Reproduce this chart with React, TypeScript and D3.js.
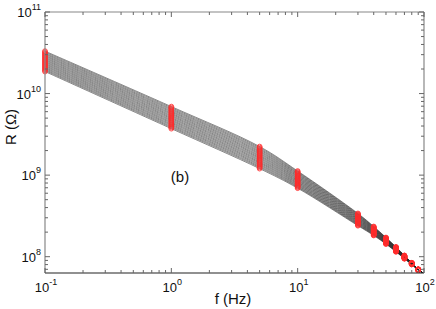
import React, { useEffect } from 'react'
import * as d3 from 'd3'

const width = 436
const height = 309
const margin = { left: 45, right: 12, top: 12, bottom: 36 }

// frequencies (Hz) where the resistance was sampled (red markers)
const freqs = [0.1, 1, 5, 10, 30, 40, 50, 60, 70, 80, 90]

// log10(R / Ohm) of every curve at each frequency, top curve first
const logR_f0_1 = [10.52, 10.508, 10.495, 10.483, 10.47, 10.458, 10.445, 10.433, 10.42, 10.408, 10.395, 10.383, 10.37, 10.358, 10.345, 10.333, 10.32, 10.308, 10.295, 10.283, 10.27]
const logR_f1 = [9.84, 9.827, 9.813, 9.8, 9.786, 9.773, 9.759, 9.746, 9.732, 9.719, 9.705, 9.692, 9.678, 9.665, 9.651, 9.638, 9.624, 9.611, 9.597, 9.584, 9.57]
const logR_f5 = [9.35, 9.337, 9.323, 9.31, 9.296, 9.283, 9.269, 9.256, 9.242, 9.229, 9.215, 9.202, 9.188, 9.175, 9.161, 9.148, 9.134, 9.121, 9.107, 9.094, 9.08]
const logR_f10 = [9.05, 9.04, 9.029, 9.019, 9.008, 8.998, 8.987, 8.977, 8.966, 8.956, 8.945, 8.935, 8.924, 8.914, 8.903, 8.893, 8.882, 8.872, 8.861, 8.851, 8.84]
const logR_f30 = [8.53, 8.523, 8.515, 8.508, 8.5, 8.493, 8.485, 8.478, 8.47, 8.463, 8.455, 8.448, 8.44, 8.433, 8.425, 8.418, 8.41, 8.403, 8.395, 8.388, 8.38]
const logR_f40 = [8.37, 8.365, 8.359, 8.354, 8.348, 8.343, 8.337, 8.332, 8.326, 8.321, 8.315, 8.31, 8.304, 8.299, 8.293, 8.288, 8.282, 8.277, 8.271, 8.266, 8.26]
const logR_f50 = [8.235, 8.231, 8.227, 8.223, 8.219, 8.215, 8.211, 8.207, 8.203, 8.199, 8.195, 8.191, 8.187, 8.183, 8.179, 8.175, 8.171, 8.167, 8.163, 8.159, 8.155]
const logR_f60 = [8.12, 8.117, 8.114, 8.111, 8.108, 8.105, 8.102, 8.099, 8.096, 8.093, 8.09, 8.087, 8.084, 8.081, 8.078, 8.075, 8.072, 8.069, 8.066, 8.063, 8.06]
const logR_f70 = [8.015, 8.013, 8.011, 8.009, 8.007, 8.005, 8.003, 8.001, 7.999, 7.997, 7.995, 7.993, 7.991, 7.989, 7.987, 7.985, 7.983, 7.981, 7.979, 7.977, 7.975]
const logR_f80 = [7.925, 7.924, 7.923, 7.922, 7.921, 7.92, 7.919, 7.918, 7.917, 7.916, 7.915, 7.914, 7.913, 7.912, 7.911, 7.91, 7.909, 7.908, 7.907, 7.906, 7.905]
const logR_f90 = [7.845, 7.845, 7.844, 7.844, 7.843, 7.843, 7.842, 7.842, 7.841, 7.841, 7.84, 7.84, 7.839, 7.839, 7.838, 7.838, 7.837, 7.837, 7.836, 7.836, 7.835]
const columns = [logR_f0_1, logR_f1, logR_f5, logR_f10, logR_f30, logR_f40, logR_f50, logR_f60, logR_f70, logR_f80, logR_f90]

// all curves run into the corner at 100 Hz
const endFreq = 100
const endLogR = 7.79

const xTickExps = [-1, 0, 1, 2]
const yTickExps = [8, 9, 10, 11]

const x = d3.scaleLog().domain([0.1, 100]).range([margin.left, width - margin.right])
const y = d3.scaleLog().domain([Math.pow(10, 7.8), 1e11]).range([height - margin.bottom, margin.top])

export default function App() {
  useEffect(() => {
    document.body.style.margin = '0'
  }, [])

  const x0 = margin.left
  const x1 = width - margin.right
  const y0 = height - margin.bottom
  const y1 = margin.top

  const curves = logR_f0_1.map((_, i) => {
    const pts: [number, number][] = freqs.map((f, j) => [f, Math.pow(10, columns[j][i])])
    pts.push([endFreq, Math.pow(10, endLogR)])
    return pts
  })

  const line = d3
    .line<[number, number]>()
    .x((d) => x(d[0]))
    .y((d) => y(d[1]))
    .curve(d3.curveCatmullRom.alpha(0.5))

  const xTicks = x.ticks()
  const yTicks = y.ticks()
  const isMajor = (v: number) => Math.abs(Math.log10(v) - Math.round(Math.log10(v))) < 1e-6

  const font = 'Liberation Sans, Arial, sans-serif'

  return (
    <svg width={width} height={height} style={{ display: 'block', fontFamily: font }}>
      <rect width={width} height={height} fill="#fff" />
      <defs>
        <clipPath id="plot">
          <rect x={x0} y={y1} width={x1 - x0} height={y0 - y1} />
        </clipPath>
      </defs>

      <g clipPath="url(#plot)">
        {curves.map((c, i) => (
          <path key={i} d={line(c) || ''} fill="none" stroke="#222" strokeWidth={0.55} />
        ))}
      </g>

      <g>
        {columns.map((col, j) =>
          col.map((v, i) => (
            <circle
              key={`${j}-${i}`}
              cx={x(freqs[j])}
              cy={y(Math.pow(10, v))}
              r={2.4}
              fill="none"
              stroke="#ff2a2a"
              strokeOpacity={0.8}
              strokeWidth={1}
            />
          )),
        )}
      </g>

      {/* frame */}
      <line x1={x0} x2={x1} y1={y1} y2={y1} stroke="#888" strokeWidth={1.2} />
      <line x1={x1} x2={x1} y1={y1} y2={y0} stroke="#888" strokeWidth={1.2} />
      <line x1={x0} x2={x0} y1={y1} y2={y0} stroke="#888" strokeWidth={1.2} />
      <line x1={x0} x2={x1} y1={y0} y2={y0} stroke="#222" strokeWidth={1.2} />

      {/* x ticks */}
      {xTicks.map((t, i) => {
        const len = isMajor(t) ? 5 : 3
        const px = x(t)
        return (
          <g key={`xt${i}`} stroke="#666" strokeWidth={1}>
            <line x1={px} x2={px} y1={y0} y2={y0 - len} />
            <line x1={px} x2={px} y1={y1} y2={y1 + len} />
          </g>
        )
      })}
      {/* y ticks */}
      {yTicks.map((t, i) => {
        const len = isMajor(t) ? 5 : 3
        const py = y(t)
        return (
          <g key={`yt${i}`} stroke="#666" strokeWidth={1}>
            <line x1={x0} x2={x0 + len} y1={py} y2={py} />
            <line x1={x1} x2={x1 - len} y1={py} y2={py} />
          </g>
        )
      })}

      {xTickExps.map((e) => (
        <text key={`xl${e}`} x={x(Math.pow(10, e)) + 1} y={292} textAnchor="middle" fontSize={13} fill="#111">
          10
          <tspan dy={-7} fontSize={9}>
            {e}
          </tspan>
        </text>
      ))}
      {yTickExps.map((e) => (
        <text key={`yl${e}`} x={41} y={y(Math.pow(10, e)) + 5} textAnchor="end" fontSize={13} fill="#111">
          10
          <tspan dy={-7} fontSize={9}>
            {e}
          </tspan>
        </text>
      ))}

      <text x={233} y={304} textAnchor="middle" fontSize={15} fill="#111">
        f (Hz)
      </text>
      <text transform="translate(16,127) rotate(-90)" textAnchor="middle" fontSize={15} fill="#111">
        R (Ω)
      </text>
      <text x={180} y={182} textAnchor="middle" fontSize={15} fill="#111">
        (b)
      </text>
    </svg>
  )
}
